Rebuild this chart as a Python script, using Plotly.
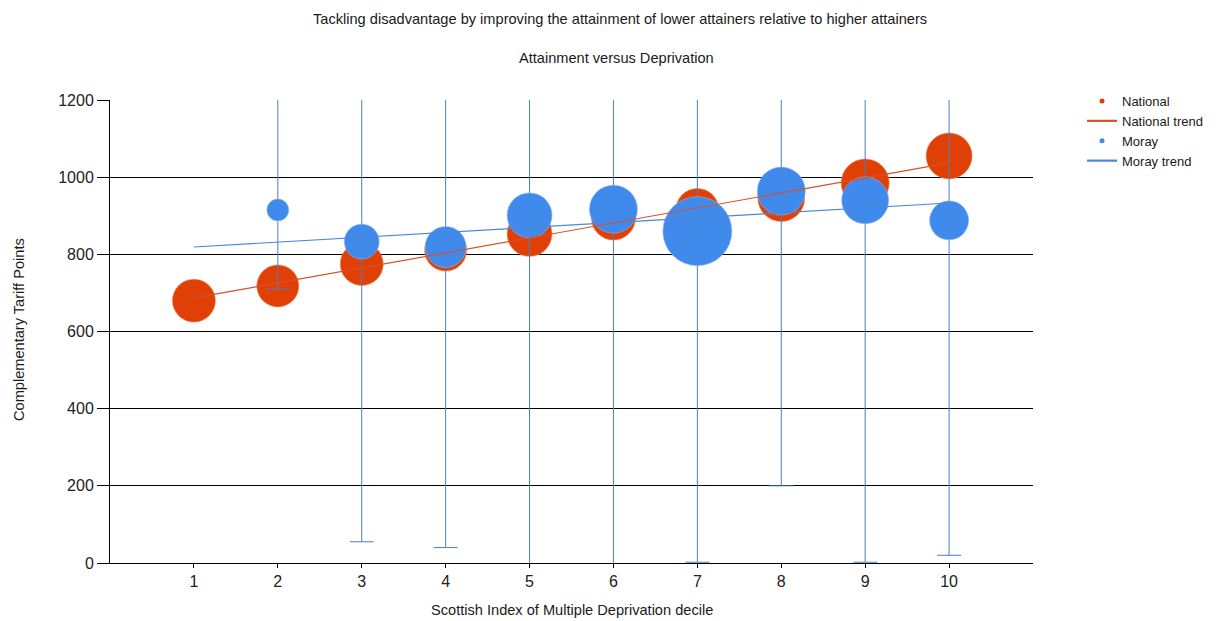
import plotly.graph_objects as go

# ---- data ----
deciles = [1, 2, 3, 4, 5, 6, 7, 8, 9, 10]
national_points = [680, 718, 775, 811, 853, 894, 915, 946, 985, 1055]
national_pupils = [4620, 4410, 4620, 4410, 5060, 4840, 4620, 5520, 5760, 5290]

moray_deciles = [2, 3, 4, 5, 6, 7, 8, 9, 10]
moray_points = [915, 833, 819, 901, 917, 860, 964, 940, 888]
moray_pupils = [24, 61, 84, 101, 115, 238, 115, 110, 76]
moray_low = [710, 55, 40, -60, -80, 2, 200, 2, 20]
moray_high = [1300, 1610, 1590, 1840, 1910, 1710, 1730, 1880, 1760]

trend_x = [1, 10]
national_trend = [687, 1037]
moray_trend = [819, 933]

x_ticks = [1, 2, 3, 4, 5, 6, 7, 8, 9, 10]
y_ticks = [0, 200, 400, 600, 800, 1000, 1200]

RED = "#E04006"
BLUE = "#3F8AEB"
ERR = "#4C7FC0"
RED_LINE = "#D8502A"
BLUE_LINE = "#4A86E0"
FONT = "Liberation Sans, Arial, sans-serif"
TXT = "#1a1a1a"

# page has an 8px body margin, so the figure is laid out in page coords minus 8
OFF = 8
W, H = 1227 - OFF, 621 - OFF
L, R_EDGE, T, B_EDGE = 110 - OFF, 1033 - OFF, 100 - OFF, 563 - OFF
PW, PH = R_EDGE - L, B_EDGE - T


def py(page_y):
    return (B_EDGE - (page_y - OFF)) / PH


def px(page_x):
    return ((page_x - OFF) - L) / PW


err_plus = [h - v for h, v in zip(moray_high, moray_points)]
err_minus = [v - l for v, l in zip(moray_points, moray_low)]

fig = go.Figure()

# National bubbles
fig.add_trace(go.Scatter(
    x=deciles, y=national_points, mode="markers", showlegend=False,
    marker=dict(size=national_pupils, sizemode="area", sizeref=5,
                color=RED, line=dict(width=0.6, color="#F08A5A"), opacity=1),
    hoverinfo="x+y",
))
# Moray bubbles with error bars
fig.add_trace(go.Scatter(
    x=moray_deciles, y=moray_points, mode="markers", showlegend=False,
    marker=dict(size=moray_pupils, sizemode="area", sizeref=0.1,
                color=BLUE, line=dict(width=0.6, color="#8DB8F2"), opacity=1),
    error_y=dict(type="data", symmetric=False, array=err_plus,
                 arrayminus=err_minus, color=ERR, thickness=1, width=12),
    hoverinfo="x+y",
))
# Trend lines
fig.add_trace(go.Scatter(
    x=trend_x, y=moray_trend, mode="lines", showlegend=False,
    line=dict(color=BLUE_LINE, width=1.2),
))
fig.add_trace(go.Scatter(
    x=trend_x, y=national_trend, mode="lines", showlegend=False,
    line=dict(color=RED_LINE, width=1.2),
))
# Legend entries
fig.add_trace(go.Scatter(
    x=[None], y=[None], mode="markers", name="National",
    marker=dict(size=5, color=RED), legendrank=1,
))
fig.add_trace(go.Scatter(
    x=[None], y=[None], mode="lines", name="National trend",
    line=dict(color=RED_LINE, width=2.2), legendrank=2,
))
fig.add_trace(go.Scatter(
    x=[None], y=[None], mode="markers", name="Moray",
    marker=dict(size=5, color=BLUE), legendrank=3,
))
fig.add_trace(go.Scatter(
    x=[None], y=[None], mode="lines", name="Moray trend",
    line=dict(color=BLUE_LINE, width=2.2), legendrank=4,
))

fig.update_layout(
    width=W, height=H,
    margin=dict(l=L, r=W - R_EDGE, t=T, b=H - B_EDGE, autoexpand=False),
    paper_bgcolor="white", plot_bgcolor="white",
    font=dict(family=FONT, size=13, color=TXT),
    showlegend=True,
    legend=dict(x=px(1082), y=py(86), xanchor="left", yanchor="top",
                font=dict(family=FONT, size=13, color=TXT),
                tracegroupgap=0, itemwidth=30, bgcolor="rgba(0,0,0,0)"),
    xaxis=dict(range=[0, 11], tickvals=x_ticks, ticktext=[str(t) for t in x_ticks],
               showgrid=False, zeroline=False, showline=True, linecolor="black",
               linewidth=1, ticks="outside", ticklen=4, tickcolor="black",
               tickfont=dict(size=16, color="#222"), fixedrange=True),
    yaxis=dict(range=[0, 1200], tickvals=y_ticks, showgrid=True, gridcolor="black",
               gridwidth=1, zeroline=False, showline=True, linecolor="black",
               linewidth=1, ticks="outside", ticklen=12, tickcolor="black",
               tickfont=dict(size=16, color="#222"), fixedrange=True),
    annotations=[
        dict(text="Tackling disadvantage by improving the attainment of lower attainers relative to higher attainers",
             x=px(620), xref="paper", y=py(19), yref="paper", showarrow=False,
             xanchor="center", yanchor="middle", font=dict(size=14.6)),
        dict(text="Attainment versus Deprivation",
             x=px(616), xref="paper", y=py(58), yref="paper", showarrow=False,
             xanchor="center", yanchor="middle", font=dict(size=14.6)),
        dict(text="Scottish Index of Multiple Deprivation decile",
             x=px(572), xref="paper", y=py(610), yref="paper", showarrow=False,
             xanchor="center", yanchor="middle", font=dict(size=14.6)),
        dict(text="Complementary Tariff Points", textangle=-90,
             x=px(19), xref="paper", y=py(330), yref="paper",
             showarrow=False, xanchor="center", yanchor="middle", font=dict(size=14.6)),
    ],
)

fig.write_html("out.html")
